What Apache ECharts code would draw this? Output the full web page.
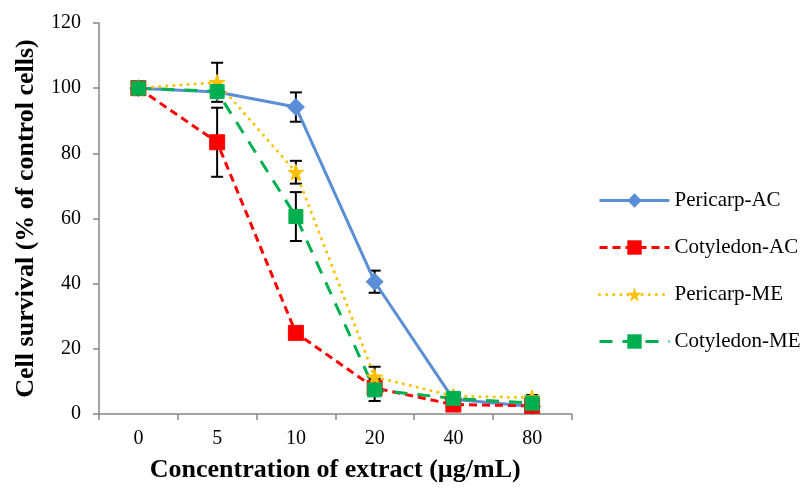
<!DOCTYPE html>
<html>
<head>
<meta charset="utf-8">
<script src="https://cdn.jsdelivr.net/npm/echarts@6/dist/echarts.min.js"></script>
<style>html,body{margin:0;padding:0;background:#fff}#c{width:806px;height:490px}</style>
</head>
<body>
<div id="c"></div>
<script>
var categories = ['0', '5', '10', '20', '40', '80'];
var pericarpAC = [100, 98.8, 94.2, 40.6, 4.5, 2.3];
var pericarpACErr = [0.8, 1.5, 4.5, 3.4, 1, 0.8];
var cotyledonAC = [100, 83.4, 24.9, 8, 2.9, 2.5];
var cotyledonACErr = [1, 10.6, 1.5, 1.5, 1, 0.8];
var pericarpME = [100, 101.8, 74.2, 11.4, 5.5, 5];
var pericarpMEErr = [1, 6, 3.5, 3.1, 1, 0.8];
var cotyledonME = [100, 99, 60.6, 7.4, 4.8, 3.3];
var cotyledonMEErr = [1, 1, 7.5, 3.4, 1, 1];
var yTicks = [0, 20, 40, 60, 80, 100, 120];

var FONT = '"Liberation Serif", "Times New Roman", serif';
var STAR = 'path://M50,0 L61,35 L98,35 L68,57 L79,92 L50,70 L21,92 L32,57 L2,35 L39,35 Z';

function errData(vals, errs) {
  return vals.map(function (v, i) { return [i, v - errs[i], v + errs[i]]; });
}
function errSeries(vals, errs) {
  return {
    type: 'custom',
    z: 1,
    silent: true,
    renderItem: function (params, api) {
      var x = api.value(0);
      var lo = api.coord([x, api.value(1)]);
      var hi = api.coord([x, api.value(2)]);
      var hw = 6;
      var st = { stroke: '#000', lineWidth: 2 };
      return {
        type: 'group',
        children: [
          { type: 'line', shape: { x1: lo[0], y1: lo[1], x2: hi[0], y2: hi[1] }, style: st },
          { type: 'line', shape: { x1: lo[0] - hw, y1: lo[1], x2: lo[0] + hw, y2: lo[1] }, style: st },
          { type: 'line', shape: { x1: hi[0] - hw, y1: hi[1], x2: hi[0] + hw, y2: hi[1] }, style: st }
        ]
      };
    },
    data: errData(vals, errs)
  };
}
function lineSeries(name, vals, color, dash, symbol, size, cap) {
  return {
    name: name, type: 'line', z: 3,
    data: vals,
    symbol: symbol, symbolSize: size, showAllSymbol: true,
    itemStyle: { color: color, borderColor: color },
    lineStyle: { color: color, width: 3, type: dash, cap: cap || 'butt' },
    emphasis: { disabled: true }
  };
}

var chart = echarts.init(document.getElementById('c'), null, { renderer: 'canvas' });
chart.setOption({
  animation: false,
  backgroundColor: '#fff',
  grid: { left: 99, right: 234.5, top: 23, bottom: 76 },
  legend: {
    orient: 'vertical', left: 593, top: 185,
    itemWidth: 70, itemHeight: 18, itemGap: 26,
    lineStyle: { width: 3 },
    textStyle: { fontFamily: FONT, fontSize: 21, color: '#000' },
    data: ['Pericarp-AC', 'Cotyledon-AC', 'Pericarp-ME', 'Cotyledon-ME']
  },
  xAxis: {
    type: 'category', data: categories, boundaryGap: true,
    name: 'Concentration of extract (µg/mL)', nameLocation: 'middle', nameGap: 43,
    nameTextStyle: { fontFamily: FONT, fontSize: 26, fontWeight: 'bold', color: '#000' },
    axisLine: { lineStyle: { color: '#868686', width: 1.5 } },
    axisTick: { show: true, interval: 0, length: 6, lineStyle: { color: '#868686', width: 1.5 } },
    axisLabel: { fontFamily: FONT, fontSize: 20, color: '#000', margin: 15 }
  },
  yAxis: {
    type: 'value', min: yTicks[0], max: yTicks[yTicks.length - 1], interval: 20,
    name: 'Cell survival (% of control cells)', nameLocation: 'middle', nameGap: 60,
    nameTextStyle: { fontFamily: FONT, fontSize: 26, fontWeight: 'bold', color: '#000' },
    axisLine: { show: true, lineStyle: { color: '#868686', width: 1.5 } },
    axisTick: { show: true, length: 6, lineStyle: { color: '#868686', width: 1.5 } },
    splitLine: { show: false },
    axisLabel: { fontFamily: FONT, fontSize: 20, color: '#000', margin: 18 }
  },
  series: [
    errSeries(pericarpAC, pericarpACErr),
    errSeries(cotyledonAC, cotyledonACErr),
    errSeries(pericarpME, pericarpMEErr),
    errSeries(cotyledonME, cotyledonMEErr),
    lineSeries('Pericarp-AC', pericarpAC, '#5A8ED6', 'solid', 'diamond', 17),
    lineSeries('Cotyledon-AC', cotyledonAC, '#FF0000', [8, 5], 'rect', 15),
    lineSeries('Pericarp-ME', pericarpME, '#FFC000', [0.1, 7], STAR, 16, 'round'),
    lineSeries('Cotyledon-ME', cotyledonME, '#00B050', [13, 10], 'rect', 14)
  ]
});
</script>
</body>
</html>
